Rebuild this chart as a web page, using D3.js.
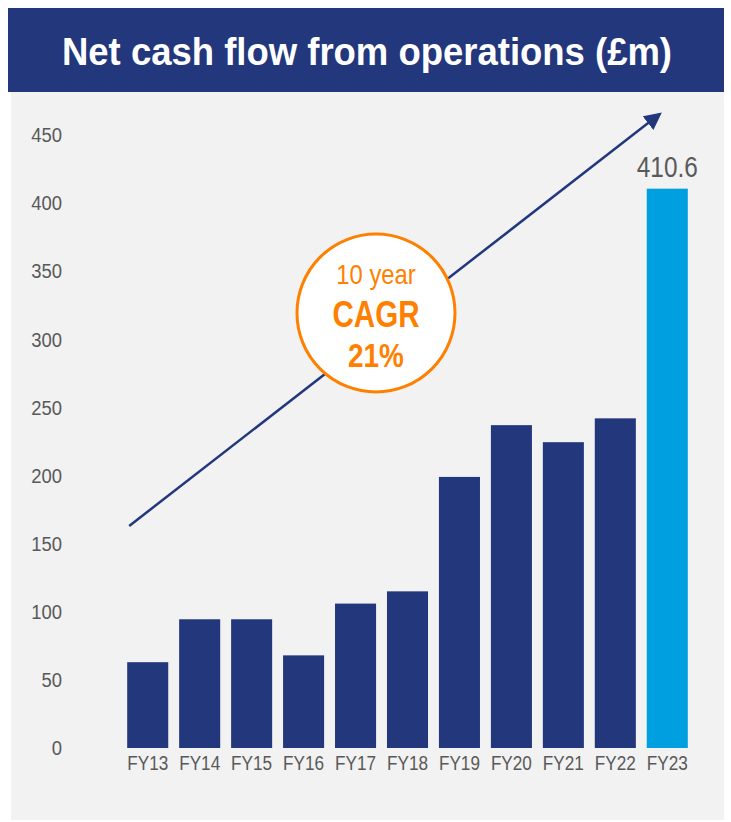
<!DOCTYPE html>
<html>
<head>
<meta charset="utf-8">
<script src="https://cdn.jsdelivr.net/npm/d3@7"></script>
<style>
  body { margin: 0; background: #fff; }
  svg text { font-family: "Liberation Sans", Arial, sans-serif; }
</style>
</head>
<body>
<div id="chart"></div>
<script>
const categories = ['FY13', 'FY14', 'FY15', 'FY16', 'FY17', 'FY18', 'FY19', 'FY20', 'FY21', 'FY22', 'FY23']
const values = [63, 94.5, 94.5, 68, 106, 115, 199, 237, 224.5, 242, 410.6]
const yTicks = [0, 50, 100, 150, 200, 250, 300, 350, 400, 450]
const highlight = 'FY23'
const title = 'Net cash flow from operations (£m)'
const cagrLines = ['10 year', 'CAGR', '21%']
// trend arrow, in data units: [category, value]
const arrowStart = ['FY13', 163]
const arrowEnd = ['FY23', 465]

const width = 731
const height = 822
const navy = '#23377d'
const orange = '#ff7f00'
const grey = '#595959'

// squeeze text horizontally to mimic a narrow face
const narrow = (sel, factor) =>
  sel.each(function () {
    const w = this.getComputedTextLength()
    d3.select(this).attr('textLength', w * factor).attr('lengthAdjust', 'spacingAndGlyphs')
  })

const svg = d3.select('#chart').append('svg').attr('width', width).attr('height', height)

// panel + title banner
svg.append('rect').attr('x', 11).attr('y', 8).attr('width', 713).attr('height', 812).attr('fill', '#f2f2f2')
svg.append('rect').attr('x', 8).attr('y', 8).attr('width', 716).attr('height', 84).attr('fill', navy)
svg.append('text')
  .attr('x', 367).attr('y', 65)
  .attr('text-anchor', 'middle')
  .attr('fill', '#fff')
  .attr('font-size', 39)
  .attr('font-weight', 'bold')
  .attr('textLength', 610)
  .attr('lengthAdjust', 'spacingAndGlyphs')
  .text(title)

const x = d3.scaleBand().domain(categories).range([122, 693]).paddingInner(0.21).paddingOuter(0.1)
const y = d3.scaleLinear().domain([0, 450]).range([748, 135])

// y axis labels
svg.append('g')
  .selectAll('text')
  .data(yTicks)
  .enter()
  .append('text')
  .attr('x', 62)
  .attr('y', (d) => y(d))
  .attr('dy', '0.35em')
  .attr('text-anchor', 'end')
  .attr('fill', grey)
  .attr('font-size', 20.5)
  .text((d) => d)
  .call(narrow, 0.9)

// bars
svg.append('g')
  .selectAll('rect')
  .data(values)
  .enter()
  .append('rect')
  .attr('x', (d, i) => x(categories[i]))
  .attr('y', (d) => y(d))
  .attr('width', x.bandwidth())
  .attr('height', (d) => y(0) - y(d))
  .attr('fill', (d, i) => (categories[i] === highlight ? '#009fdf' : navy))

// x labels
svg.append('g')
  .selectAll('text')
  .data(categories)
  .enter()
  .append('text')
  .attr('x', (d) => x(d) + x.bandwidth() / 2)
  .attr('y', 770)
  .attr('text-anchor', 'middle')
  .attr('fill', grey)
  .attr('font-size', 19.5)
  .text((d) => d)
  .call(narrow, 0.88)

// value label on highlighted bar
const hi = categories.indexOf(highlight)
svg.append('text')
  .attr('x', x(highlight) + x.bandwidth() / 2)
  .attr('y', y(values[hi]) - 12)
  .attr('text-anchor', 'middle')
  .attr('fill', grey)
  .attr('font-size', 29)
  .text(values[hi])
  .call(narrow, 0.84)

// trend arrow
svg.append('defs').append('marker')
  .attr('id', 'head')
  .attr('viewBox', '0 0 10 10')
  .attr('refX', 8).attr('refY', 5)
  .attr('markerWidth', 7).attr('markerHeight', 7)
  .attr('markerUnits', 'strokeWidth')
  .attr('orient', 'auto')
  .append('path').attr('d', 'M0,0 L10,5 L0,10 z').attr('fill', navy)

svg.append('line')
  .attr('x1', x(arrowStart[0]) + 2).attr('y1', y(arrowStart[1]))
  .attr('x2', x(arrowEnd[0]) + x.bandwidth() * 0.3).attr('y2', y(arrowEnd[1]))
  .attr('stroke', navy)
  .attr('stroke-width', 2.5)
  .attr('marker-end', 'url(#head)')

// CAGR badge
const cx = 376
const cy = 313
svg.append('circle').attr('cx', cx).attr('cy', cy).attr('r', 79)
  .attr('fill', '#fff').attr('stroke', orange).attr('stroke-width', 3)
const badge = svg.append('g').attr('fill', orange).attr('text-anchor', 'middle')
badge.append('text').attr('x', cx).attr('y', cy - 29).attr('font-size', 28).text(cagrLines[0]).call(narrow, 0.85)
badge.append('text').attr('x', cx).attr('y', cy + 14).attr('font-size', 36).attr('font-weight', 'bold').text(cagrLines[1]).call(narrow, 0.82)
badge.append('text').attr('x', cx).attr('y', cy + 54).attr('font-size', 34).attr('font-weight', 'bold').text(cagrLines[2]).call(narrow, 0.82)
</script>
</body>
</html>
